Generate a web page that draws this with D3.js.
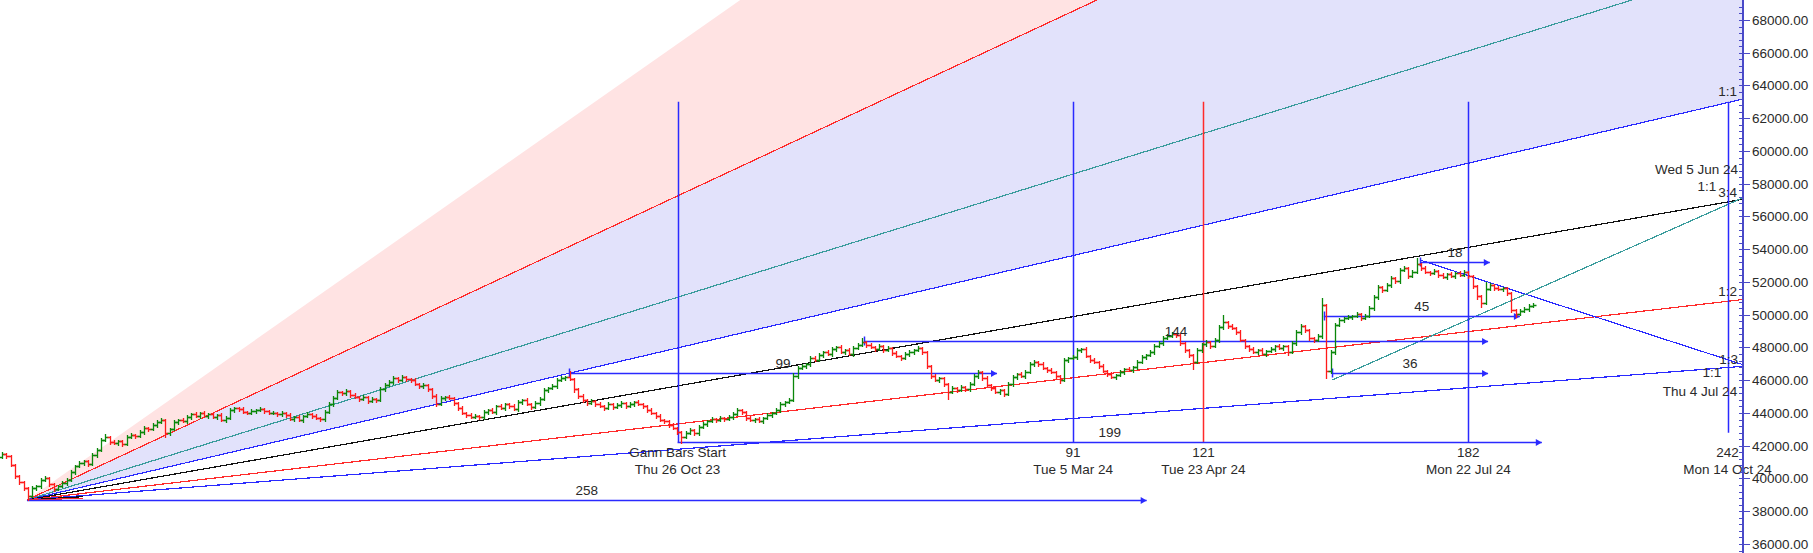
<!DOCTYPE html>
<html><head><meta charset="utf-8">
<script src="https://cdn.jsdelivr.net/npm/d3@7"></script>
<style>
html,body{margin:0;padding:0;background:#fff;}
svg{display:block;font-family:"Liberation Sans",Arial,sans-serif;}
</style></head><body>
<svg id="c" width="1813" height="553"></svg>
<script>
// ---------------- DATA ----------------
// daily closes (Bank Nifty, Mar 2023 - Aug 2024)
const closes = [
41500,41380,40820,40150,39790,39420,38930,39420,39540,39900,
40030,39660,39360,39540,39720,39900,40400,40760,40950,41070,
40880,41430,41740,42350,42540,42230,42170,42290,42110,42540,
42660,42600,42840,43080,43020,43270,43450,43570,42780,43020,
43450,43570,43510,43750,43940,43820,44000,43820,43940,43750,
43880,43570,43690,44180,44310,44250,44060,44000,44120,44180,
44250,44120,44000,44000,43940,44000,43880,43630,43750,43570,
43820,43940,43820,43690,43630,44060,44550,44920,45280,45220,
45340,45100,44980,44850,44980,44730,44850,44790,45460,45710,
45890,46140,46010,46200,46080,46010,45770,45650,45710,45460,
45040,44550,44920,44980,44920,44610,44310,44000,43880,43750,
43820,43750,44060,44180,44060,44430,44310,44550,44430,44250,
44670,44790,44550,44370,44610,44850,45400,45530,45650,46010,
46140,46200,46080,45460,45040,44790,44610,44730,44550,44430,
44310,44550,44370,44490,44610,44430,44550,44670,44550,44430,
44180,44000,43820,43570,43510,43270,43080,42840,42530,42780,
42960,42780,43140,43330,43510,43630,43570,43690,43630,43750,
43940,44180,44060,43690,43570,43630,43510,43690,43880,44000,
44180,44550,44670,44790,46260,46750,46870,46990,47360,47240,
47540,47720,47600,47910,48030,47720,47850,47600,47970,48150,
48340,48150,48030,47910,48090,47850,47970,47660,47480,47360,
47600,47720,47850,47970,47720,46870,46260,46010,46140,45770,
45280,45530,45400,45590,45460,45770,46260,46500,46140,45710,
45530,45280,45400,45160,45770,46200,46380,46260,46500,46990,
47110,46990,46750,46630,46500,46260,46010,47240,47360,47420,
47850,47910,47480,47240,47110,46870,46560,46380,46200,46320,
46500,46690,46630,46810,47110,47420,47540,47720,48090,48270,
48580,48700,48820,48760,48270,47850,47540,47110,47850,48210,
48340,48090,48460,49250,49560,49310,49190,48950,48460,48090,
47910,47720,47850,47600,47790,47910,48090,47970,48090,47720,
48270,48950,49310,49070,48580,48460,48700,50590,46560,47720,
49370,49680,49800,49860,49920,50040,49800,49920,50410,51080,
51690,51510,51820,52240,52060,52730,52850,52370,52610,53100,
52850,52610,52550,52670,52430,52300,52490,52370,52550,52430,
52610,52370,51750,51140,50710,51570,51820,51630,51570,51630,
51330,50290,50040,50230,50350,50530,50590
];
const firstOpen = 41300;
// per bar: upper wick digit, lower wick digit (x 50 points)
const wicks = `
21 12 11 13 12 12 15 21 12 22  21 12 13 11 21 22 21 12 21 12
12 21 22 21 31 12 21 12 12 21  21 12 21 22 12 21 22 21 15 12
21 12 21 22 12 21 12 21 12 11  12 21 22 21 12 12 21 11 21 12
21 12 11 21 12 22 12 21 12 21  12 21 12 21 12 22 21 22 21 12
22 12 21 12 21 12 21 12 21 22  21 22 12 21 12 12 21 12 22 12
12 23 21 12 21 12 12 21 12 21  21 12 22 12 21 12 21 12 12 21
22 12 21 12 21 22 21 12 21 22  21 12 71 13 12 22 12 21 12 21
12 21 12 21 22 12 21 12 21 12  12 21 12 21 12 12 21 12 17 21
21 12 22 21 12 21 12 21 12 21  22 31 12 12 21 12 21 12 21 12
21 22 12 21 41 22 21 12 22 21  21 12 21 22 12 21 12 21 22 21
51 12 21 12 21 12 21 12 21 13  21 22 12 21 12 13 12 21 12 13
19 21 12 21 12 22 21 22 12 21  12 21 12 13 21 22 12 21 22 21
22 12 21 12 21 12 13 21 12 21  22 12 21 12 21 12 21 12 21 12
21 12 21 12 22 21 12 21 22 21  22 21 21 12 12 12 12 19 21 12
22 12 21 22 82 12 21 12 21 12  12 21 12 21 12 21 12 21 12 13
21 22 32 12 12 12 21 92 19 22  22 21 12 21 12 21 12 21 21 22
22 12 21 22 12 22 21 12 21 71  12 21 12 21 12 21 12 21 12 21
21 12 12 13 15 91 21 12 21 12  12 13 13 21 21 22 21`.trim().split(/\s+/);

// Gann fan (origin = March 2023 low), 1x1 = points per bar
const fanOrigin = {bar: 5.8, price: 38690};
const fanUnit = 61.35;
const fanRatios = [2, 4/3, 1, 3/4, 1/2, 1/3];
const fanShortRatios = [1/4, 1/8];
const fanLabels = ["", "", "1:1", "3:4", "1:2", "1:3"];

// Gann time cycles
const cycleBars   = [157.1, 249.1, 279.4, 341.0, 401.3];
const cycleCounts = ["Gann Bars Start", "91", "121", "182", "242"];
const cycleDates  = ["Thu 26 Oct 23", "Tue 5 Mar 24", "Tue 23 Apr 24", "Mon 22 Jul 24", "Mon 14 Oct 24"];
const cycleTop = 63000;
const cycleBottom = [42230, 42230, 42230, 42230, 42800];

// bar-count spans
const spanLabels = ["258", "199", "99", "144", "45", "36", "18"];
const spanFrom   = [5.8, 157.1, 131.9, 200.5, 307.4, 309.3, 329.8];
const spanTo     = [266.2, 358.1, 231.4, 345.6, 353.0, 345.6, 346.0];
const spanPrice  = [38690, 42230, 46440, 48400, 49920, 46440, 53220];

// trend lines
const downLine = [{bar: 329.8, price: 53340}, {bar: 404.9, price: 46950}];
const upLine   = [{bar: 309.3, price: 46010}, {bar: 404.9, price: 57150}];

const yTicks = d3.range(36000, 68001, 2000);
const yMinor = d3.range(35600, 69001, 400);

// ---------------- CHART ----------------
const W = 1813, H = 553, axisX = 1743;
const svg = d3.select("#c");
const x = d3.scaleLinear().domain([0, 100]).range([2, 432]);
const y = d3.scaleLinear().domain([35450, 69221]).range([H, 0]);

const BLUE = "#2a2aff", RED = "#ff2a2a", TEAL = "#3a9c9c", BLACK = "#111";
const fanColors = [RED, TEAL, BLUE, BLACK, RED, BLUE];

svg.append("defs").append("clipPath").attr("id", "plot")
  .append("rect").attr("x", 0).attr("y", 0).attr("width", axisX).attr("height", H);

const plot = svg.append("g").attr("clip-path", "url(#plot)");
const fanP = (r, b) => fanOrigin.price + r * fanUnit * (b - fanOrigin.bar);
const far = 460;
const O = [x(fanOrigin.bar), y(fanOrigin.price)];
const pt = (r) => [x(far), y(fanP(r, far))];

// shaded wedges
plot.append("path").attr("d", d3.line()([O, pt(3), pt(2)]) + "Z").attr("fill", "#ffe3e3");
plot.append("path").attr("d", d3.line()([O, pt(2), pt(1)]) + "Z").attr("fill", "#e2e2fb");

// fan lines
fanRatios.forEach((r, k) => {
  plot.append("line").attr("x1", O[0]).attr("y1", O[1])
    .attr("x2", x(far)).attr("y2", y(fanP(r, far)))
    .attr("stroke", fanColors[k]).attr("stroke-width", 1.2)
    .attr("shape-rendering", "crispEdges");
});
fanShortRatios.forEach((r, k) => {
  const b = fanOrigin.bar + 13;
  plot.append("line").attr("x1", O[0]).attr("y1", O[1])
    .attr("x2", x(b)).attr("y2", y(fanP(r, b)))
    .attr("stroke", k ? RED : BLACK).attr("stroke-width", 1.2)
    .attr("shape-rendering", "crispEdges");
});

// trend lines
plot.append("line")
  .attr("x1", x(downLine[0].bar)).attr("y1", y(downLine[0].price))
  .attr("x2", x(downLine[1].bar)).attr("y2", y(downLine[1].price))
  .attr("stroke", BLUE).attr("stroke-width", 1.2).attr("shape-rendering", "crispEdges");
plot.append("line")
  .attr("x1", x(upLine[0].bar)).attr("y1", y(upLine[0].price))
  .attr("x2", x(upLine[1].bar)).attr("y2", y(upLine[1].price))
  .attr("stroke", TEAL).attr("stroke-width", 1.2).attr("shape-rendering", "crispEdges");

// vertical cycle lines
cycleBars.forEach((b, k) => {
  const X = Math.round(x(b)) + 0.5;
  plot.append("line").attr("x1", X).attr("x2", X)
    .attr("y1", y(cycleTop)).attr("y2", y(cycleBottom[k]))
    .attr("stroke", k === 2 ? RED : BLUE).attr("stroke-width", 1.5);
});

// spans with arrows
spanLabels.forEach((lab, k) => {
  const x1 = x(spanFrom[k]), x2 = x(spanTo[k]), Y = Math.round(y(spanPrice[k])) + 0.5;
  plot.append("line").attr("x1", x1).attr("x2", x2).attr("y1", Y).attr("y2", Y)
    .attr("stroke", BLUE).attr("stroke-width", 1.5);
  plot.append("path").attr("d", `M${x2},${Y}L${x2 - 6},${Y - 3.5}L${x2 - 6},${Y + 3.5}Z`).attr("fill", BLUE);
  if (k >= 2) plot.append("line").attr("x1", Math.round(x1) + 0.5).attr("x2", Math.round(x1) + 0.5)
    .attr("y1", Y - 5).attr("y2", Y + 4).attr("stroke", BLUE).attr("stroke-width", 1.5);
});

// OHLC bars
const bars = closes.map((c, i) => {
  const o = i ? closes[i - 1] : firstOpen;
  const u = +wicks[i][0] * 50, d = +wicks[i][1] * 50;
  return {i, o, c, h: Math.max(o, c) + u, l: Math.min(o, c) - d};
});
plot.append("g").selectAll("path").data(bars).join("path")
  .attr("d", b => {
    const X = Math.round(x(b.i)) + 0.5;
    const yo = Math.round(y(b.o)) + 0.5, yc = Math.round(y(b.c)) + 0.5;
    return `M${X},${Math.round(y(b.h))}V${Math.round(y(b.l)) + 1}M${X - 3},${yo}H${X}M${X},${yc}H${X + 3}`;
  })
  .attr("fill", "none").attr("stroke", b => b.c >= b.o ? "#0a870a" : "#ff1a1a")
  .attr("stroke-width", 1.3);

// ---------------- TEXT ----------------
const txt = (s, X, Y, anchor) => svg.append("text").attr("x", X).attr("y", Y)
  .attr("text-anchor", anchor || "middle").attr("font-size", 13.5).attr("fill", "#2a2a2a").text(s);

spanLabels.forEach((lab, k) => {
  txt(lab, (x(spanFrom[k]) + x(spanTo[k])) / 2, y(spanPrice[k]) - 5);
});
cycleBars.forEach((b, k) => {
  txt(cycleCounts[k], x(b), 457);
  txt(cycleDates[k], x(b), 474);
});
const lb = cycleBars[4];
fanLabels.forEach((l, k) => {
  if (!l) return;
  const off = [0, 0, -7, -5, -5, -4][k];
  txt(l, x(lb) + (k === 5 ? 1 : 0), y(fanP(fanRatios[k], lb)) + off);
});
txt("Wed 5 Jun 24", 1738, 174, "end");
txt("1:1", 1707, 191);
txt("1:1", 1712, 377);
txt("Thu 4 Jul 24", 1700, 396);

// ---------------- Y AXIS ----------------
svg.append("line").attr("x1", axisX).attr("x2", axisX).attr("y1", 0).attr("y2", H)
  .attr("stroke", "#4a4ac8").attr("stroke-width", 2);
svg.append("g").selectAll("line").data(yMinor).join("line")
  .attr("x1", axisX - 4).attr("x2", axisX)
  .attr("y1", d => Math.round(y(d)) + 0.5).attr("y2", d => Math.round(y(d)) + 0.5)
  .attr("stroke", "#4a4ac8").attr("stroke-width", 1);
svg.append("g").selectAll("line").data(yTicks).join("line")
  .attr("x1", axisX).attr("x2", axisX + 7)
  .attr("y1", d => Math.round(y(d)) + 0.5).attr("y2", d => Math.round(y(d)) + 0.5)
  .attr("stroke", "#4a4ac8").attr("stroke-width", 1);
svg.append("g").selectAll("text").data(yTicks).join("text")
  .attr("x", axisX + 9).attr("y", d => y(d)).attr("dy", "0.36em")
  .attr("font-size", 13.5).attr("fill", "#2a2a2a")
  .text(d => d3.format(".2f")(d));
</script>
</body></html>
